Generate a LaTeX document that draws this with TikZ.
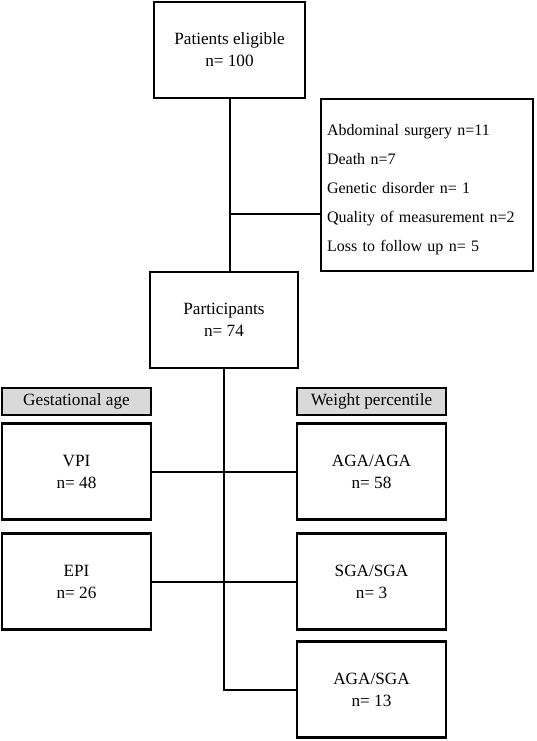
\documentclass[tikz,border=0pt]{standalone}
\usepackage{fontspec}
\setmainfont{Liberation Serif}
\usetikzlibrary{positioning,calc}

\begin{document}
\begin{tikzpicture}[x=1pt,y=-1pt,
  box/.style={draw,line width=2.2pt,align=center,font=\fontsize{17.2}{22}\selectfont},
  head/.style={draw,line width=2.2pt,fill=black!15,minimum width=149pt,minimum height=27pt,inner sep=0pt,font=\fontsize{17.2}{20}\selectfont},
  link/.style={line width=2pt}]
\useasboundingbox (0,0) rectangle (536,741);
\node[box,minimum width=151pt,minimum height=96pt] (elig) at (229.5,50) {Patients eligible\\n= 100};
\node[box,minimum width=212pt,minimum height=172pt,text width=200pt,inner xsep=6pt,align=left,
  font=\fontsize{16}{29}\selectfont] (excl) at (427,185)
  {\rule{0pt}{20pt}Abdominal surgery n=11\\Death n=7\\Genetic disorder n= 1\\Quality of measurement n=2\\Loss to follow up n= 5};
\node[box,minimum width=148pt,minimum height=96pt] (part) at (224,320) {Participants\\n= 74};
\node[head] (gest) at (76.5,401.5) {Gestational age};
\node[head] (wgt) at (371.5,401.5) {Weight percentile};
\node[box,minimum width=149pt,minimum height=96pt] (vpi) at (76.5,471.5) {VPI\\n= 48};
\node[box,minimum width=149pt,minimum height=96pt] (epi) at (76.5,581.5) {EPI\\n= 26};
\node[box,minimum width=149pt,minimum height=96pt] (aga) at (371.5,471.5) {AGA/AGA\\n= 58};
\node[box,minimum width=149pt,minimum height=96pt] (sga) at (371.5,581.5) {SGA/SGA\\n= 3};
\node[box,minimum width=149pt,minimum height=96pt] (mix) at (371.5,689.5) {AGA/SGA\\n= 13};
% exclusions
\coordinate (split) at (elig.south |- 0,214);
\draw[link] (elig.south) -- (elig.south |- part.north);
\draw[link] (split) -- (split -| excl.west);
% groups
\coordinate (low) at (part.south |- mix.west);
\draw[link] (part.south) -- (low) -- (mix.west);
\draw[link] (vpi.east) -- (aga.west);
\draw[link] (epi.east) -- (sga.west);
\end{tikzpicture}
\end{document}
